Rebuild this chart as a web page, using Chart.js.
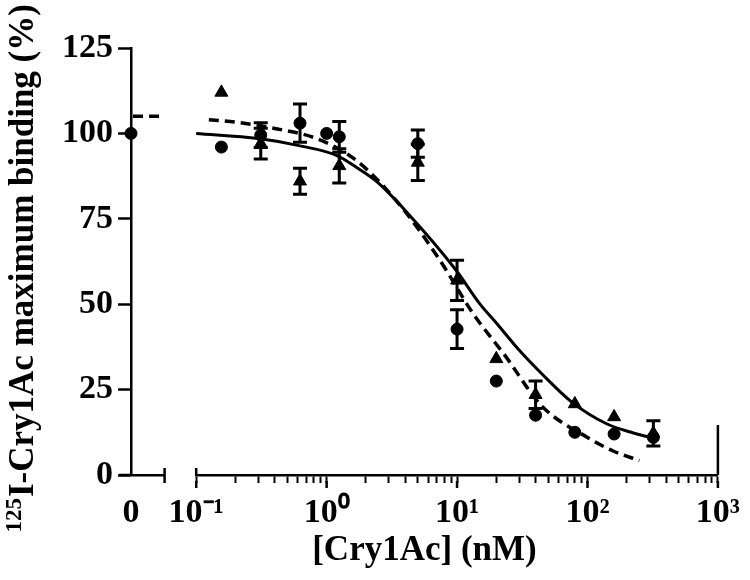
<!DOCTYPE html>
<html>
<head>
<meta charset="utf-8">
<script src="https://cdn.jsdelivr.net/npm/chart.js@4.4.1/dist/chart.umd.min.js"></script>
<style>
  html, body { margin: 0; padding: 0; background: #fff; }
</style>
</head>
<body>
<canvas id="c" width="750" height="580"></canvas>
<script>
// doses in nM (% of maximum binding)
const circleDose = [0.156, 0.3125, 0.625, 1.0, 1.25, 5, 10, 20, 40, 80, 160, 320];
const circleVal  = [96, 99.5, 103, 100, 99, 97, 42.7, 27.5, 17.5, 12.5, 12, 11];
const circleErr  = [null, 3.6, 5.6, null, 4.5, 4, 5.7, null, null, null, null, null];

const triDose = [0.156, 0.3125, 0.625, 1.25, 5, 10, 20, 40, 80, 160, 320];
const triVal  = [112, 97, 86, 90.5, 91.5, 57, 34, 23.5, 20.8, 17, 12.2];
const triErr  = [null, 4.5, 3.8, 5, 5.3, 5.9, null, 4, null, null, 3.7];

// zero dose control point and the dashed plateau shown beside it
const zeroVal = 100;
const zeroFitX = [0.06, 0.95];
const zeroFitY = [105, 105];

// fitted curves (solid and dashed)
const solidX = [0.1, 0.3, 0.6, 1.2, 1.7, 2.4, 4.1, 9.8, 15, 20, 30, 45, 75, 140, 225, 320];
const solidY = [100, 98.5, 96.5, 93.5, 90, 86, 77, 60, 50, 44.5, 36.5, 29.5, 21.5, 15, 12.3, 10.8];
const dashX  = [0.125, 0.21, 0.42, 0.85, 1.7, 3.65, 7.35, 13.2, 23.5, 44.6, 100, 156, 250];
const dashY  = [104, 103.2, 101.3, 98.4, 92, 79, 63, 47.4, 34.8, 20.2, 11, 7.1, 4.2];

const yTicks = [0, 25, 50, 75, 100, 125];
const decades = [-1, 0, 1, 2, 3];
const decadeLabels = ['10\u207B\u00B9', '10\u2070', '10\u00B9', '10\u00B2', '10\u00B3'];
const xTitle = '[Cry1Ac] (nM)';
const yTitleSup = '125';
const yTitle = 'I-Cry1Ac maximum binding (%)';

const FONT = '"Liberation Serif", "Times New Roman", serif';

function pts(xs, ys) {
    return xs.map((x, i) => ({ x: x, y: ys[i] }));
}

// error bars, drawn through the y scale
const errorBars = {
    id: 'errorBars',
    afterDatasetsDraw(chart) {
        const ctx = chart.ctx;
        const yScale = chart.scales.y;
        chart.data.datasets.forEach((ds, i) => {
            if (!ds.errors) return;
            const meta = chart.getDatasetMeta(i);
            ctx.save();
            ctx.strokeStyle = '#000';
            ctx.lineWidth = 3;
            ctx.beginPath();
            meta.data.forEach((pt, j) => {
                const e = ds.errors[j];
                if (e == null) return;
                const v = ds.data[j].y;
                const top = yScale.getPixelForValue(v + e);
                const bot = yScale.getPixelForValue(v - e);
                ctx.moveTo(pt.x, top); ctx.lineTo(pt.x, bot);
                ctx.moveTo(pt.x - 7, top); ctx.lineTo(pt.x + 7, top);
                ctx.moveTo(pt.x - 7, bot); ctx.lineTo(pt.x + 7, bot);
            });
            ctx.stroke();
            ctx.restore();
        });
    }
};

// axis break marks, longer decade ticks and the axis titles
const axisDecor = {
    id: 'axisDecor',
    afterDraw(chart) {
        const ctx = chart.ctx;
        const x0 = chart.scales.x0, x1 = chart.scales.x1;
        const base = chart.scales.y.getPixelForValue(0);
        const area = chart.chartArea;
        ctx.save();
        ctx.strokeStyle = '#000';
        ctx.lineWidth = 2.5;
        ctx.beginPath();
        ctx.moveTo(x0.left - 12, base); ctx.lineTo(x0.left, base);
        ctx.moveTo(x0.right, base - 7); ctx.lineTo(x0.right, base + 8);
        ctx.moveTo(x1.left, base - 7); ctx.lineTo(x1.left, base);
        ctx.moveTo(x1.right, base - 50); ctx.lineTo(x1.right, base);
        decades.forEach(d => {
            const px = x1.getPixelForValue(Math.pow(10, d));
            ctx.moveTo(px, base + 6); ctx.lineTo(px, base + 13);
        });
        ctx.stroke();

        ctx.fillStyle = '#000';
        ctx.font = 'bold 35px ' + FONT;
        ctx.textAlign = 'center';
        ctx.textBaseline = 'middle';
        ctx.fillText(xTitle, (area.left + area.right) / 2, 551);

        ctx.translate(33, 497);
        ctx.rotate(-Math.PI / 2);
        ctx.textAlign = 'left';
        ctx.textBaseline = 'alphabetic';
        ctx.fillText(yTitle, 0, 0);
        ctx.font = 'bold 23px ' + FONT;
        const w = ctx.measureText(yTitleSup).width;
        ctx.fillText(yTitleSup, -w - 1, -12);
        ctx.restore();
    }
};

const tickFont = { family: FONT, size: 34, weight: 'bold' };

new Chart(document.getElementById('c'), {
    type: 'scatter',
    data: {
        datasets: [
            {
                label: 'control',
                data: [{ x: 0, y: zeroVal }],
                xAxisID: 'x0', yAxisID: 'y',
                pointStyle: 'circle', pointRadius: 6,
                backgroundColor: '#000', borderColor: '#000', borderWidth: 1,
                clip: false
            },
            {
                label: 'circles',
                data: pts(circleDose, circleVal),
                errors: circleErr,
                xAxisID: 'x1', yAxisID: 'y',
                pointStyle: 'circle', pointRadius: 6,
                backgroundColor: '#000', borderColor: '#000', borderWidth: 1,
                clip: false
            },
            {
                label: 'triangles',
                data: pts(triDose, triVal),
                errors: triErr,
                xAxisID: 'x1', yAxisID: 'y',
                pointStyle: 'triangle', pointRadius: 7.5,
                backgroundColor: '#000', borderColor: '#000', borderWidth: 1,
                clip: false
            },
            {
                label: 'fit solid',
                data: pts(solidX, solidY),
                xAxisID: 'x1', yAxisID: 'y',
                showLine: true, pointRadius: 0,
                borderColor: '#000', borderWidth: 3,
                cubicInterpolationMode: 'monotone',
                clip: false
            },
            {
                label: 'fit dashed',
                data: pts(dashX, dashY),
                xAxisID: 'x1', yAxisID: 'y',
                showLine: true, pointRadius: 0,
                borderColor: '#000', borderWidth: 3.5, borderDash: [10, 6],
                cubicInterpolationMode: 'monotone',
                clip: false
            },
            {
                label: 'fit dashed zero',
                data: pts(zeroFitX, zeroFitY),
                xAxisID: 'x0', yAxisID: 'y',
                showLine: true, pointRadius: 0,
                borderColor: '#000', borderWidth: 3.5, borderDash: [10, 6],
                clip: false
            }
        ]
    },
    options: {
        responsive: false,
        animation: false,
        devicePixelRatio: 1,
        layout: { padding: { left: 60, right: 25, top: 48, bottom: 0 } },
        plugins: { legend: { display: false }, tooltip: { enabled: false } },
        scales: {
            y: {
                type: 'linear', position: 'left',
                min: 0, max: 125,
                afterBuildTicks: s => { s.ticks = yTicks.map(v => ({ value: v })); },
                afterFit: s => { s.width = 71; },
                ticks: { font: tickFont, color: '#000', padding: 5 },
                grid: { display: true, drawOnChartArea: false, drawTicks: true, tickLength: 13, tickWidth: 2.5, tickColor: '#000' },
                border: { display: true, width: 2.5, color: '#000' }
            },
            x0: {
                axis: 'x', type: 'linear', position: 'bottom',
                stack: 'xs', stackWeight: 34,
                min: 0, max: 1,
                afterBuildTicks: s => { s.ticks = [{ value: 0 }]; },
                afterFit: s => { s.height = 105; },
                ticks: { font: tickFont, color: '#000', padding: 10, maxRotation: 0, autoSkip: false, callback: () => '0' },
                grid: { display: true, drawOnChartArea: false, drawTicks: true, tickLength: 8, tickColor: 'transparent' },
                border: { display: true, width: 2.5, color: '#000' }
            },
            xgap: {
                axis: 'x', type: 'linear', position: 'bottom',
                stack: 'xs', stackWeight: 32,
                min: 0, max: 1,
                afterFit: s => { s.height = 105; },
                ticks: { display: false },
                grid: { display: false },
                border: { display: false }
            },
            x1: {
                axis: 'x', type: 'logarithmic', position: 'bottom',
                stack: 'xs', stackWeight: 528,
                min: 0.1, max: 1000,
                afterBuildTicks: s => {
                    const t = [];
                    decades.forEach(d => {
                        const p = Math.pow(10, d);
                        t.push({ value: p, major: true });
                        if (d < 3) for (let m = 2; m <= 9; m++) t.push({ value: m * p });
                    });
                    s.ticks = t;
                },
                afterFit: s => { s.height = 105; },
                ticks: {
                    font: tickFont, color: '#000', padding: 10,
                    maxRotation: 0, minRotation: 0, autoSkip: false,
                    callback: (value) => {
                        const lg = Math.log10(value);
                        const r = Math.round(lg);
                        if (Math.abs(lg - r) > 1e-9) return '';
                        return decadeLabels[decades.indexOf(r)];
                    }
                },
                grid: { display: true, drawOnChartArea: false, drawTicks: true, tickLength: 8, tickWidth: 2, tickColor: '#000' },
                border: { display: true, width: 2.5, color: '#000' }
            }
        }
    },
    plugins: [errorBars, axisDecor]
});
</script>
</body>
</html>
